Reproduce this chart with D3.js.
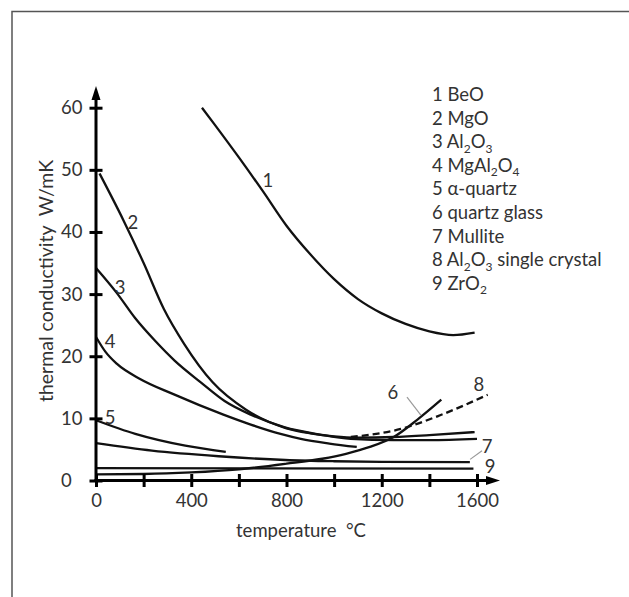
<!DOCTYPE html>
<html>
<head>
<meta charset="utf-8">
<script src="https://cdn.jsdelivr.net/npm/d3@7"></script>
<style>
  body { margin: 0; background: #fff; }
  text { font-family: Lato, "Open Sans", sans-serif; fill: #333; }
</style>
</head>
<body>
<script>
// Chart size
const width = 629;
const height = 597;

// Tick values
const xTicks = [0, 400, 800, 1200, 1600];
const xMinorTicks = [200, 600, 1000, 1400];
const yTicks = [0, 10, 20, 30, 40, 50, 60];

// Series: temperature (°C) and thermal conductivity (W/mK)
const tBeO = [445, 500, 600, 700, 800, 900, 1000, 1100, 1200, 1300, 1400, 1500, 1590];
const kBeO = [60.0, 57.2, 52.0, 46.6, 41.0, 36.4, 32.4, 29.2, 26.9, 25.2, 24.0, 23.4, 23.8];

const tMgO = [15, 115, 200, 285, 370, 490, 630, 800, 900, 1000, 1100, 1250, 1400, 1590];
const kMgO = [49.4, 41.9, 35.0, 27.6, 22.0, 15.8, 11.4, 8.4, 7.6, 7.1, 6.9, 7.0, 7.3, 7.8];

const tAl2O3 = [0, 87, 165, 250, 330, 440, 540, 650, 790, 940, 1070, 1250, 1400, 1600];
const kAl2O3 = [34.2, 30.2, 26.1, 22.4, 19.3, 15.8, 12.8, 10.6, 8.6, 7.4, 6.7, 6.5, 6.5, 6.7];

const tSpinel = [0, 40, 87, 185, 325, 535, 650, 775, 860, 980, 1095];
const kSpinel = [23.1, 20.7, 18.8, 16.35, 13.9, 10.6, 9.0, 7.5, 6.7, 5.95, 5.4];

const tQuartz = [0, 165, 375, 545];
const kQuartz = [9.7, 7.5, 5.6, 4.6];

const tGlass = [0, 200, 400, 600, 800, 950, 1050, 1150, 1250, 1350, 1450];
const kGlass = [1.0, 1.05, 1.3, 1.8, 2.7, 3.5, 4.3, 5.4, 7.0, 9.8, 13.0];

const tMullite = [0, 235, 515, 795, 1000, 1200, 1570];
const kMullite = [6.0, 4.8, 3.9, 3.3, 3.1, 3.0, 2.95];

const tCrystal = [1070, 1280, 1445, 1645];
const kCrystal = [7.0, 8.3, 10.5, 13.8];

const tZrO2 = [0, 1585];
const kZrO2 = [2.0, 1.9];

const legendItems = ["1 BeO", "2 MgO", "3 Al2O3", "4 MgAl2O4", "5 α-quartz",
  "6 quartz glass", "7 Mullite", "8 Al2O3 single crystal", "9 ZrO2"];

const series = [
  {t: tBeO, k: kBeO},
  {t: tMgO, k: kMgO},
  {t: tAl2O3, k: kAl2O3},
  {t: tSpinel, k: kSpinel},
  {t: tQuartz, k: kQuartz},
  {t: tGlass, k: kGlass},
  {t: tMullite, k: kMullite},
  {t: tCrystal, k: kCrystal, dashed: true},
  {t: tZrO2, k: kZrO2}
];

// Create SVG
const svg = d3.select("body")
  .append("svg")
  .attr("width", width)
  .attr("height", height);

// Frame (top and left edges only)
svg.append("path")
  .attr("d", "M12,597 V11.5 H629")
  .attr("fill", "none")
  .attr("stroke", "#555")
  .attr("stroke-width", 1.5);

// Scales
const x = d3.scaleLinear().domain([0, 1600]).range([96, 477]);
const y = d3.scaleLinear().domain([0, 60]).range([480.5, 107.7]);

// Curves
const line = d3.line()
  .x(d => x(d[0]))
  .y(d => y(d[1]))
  .curve(d3.curveMonotoneX);

svg.append("g")
  .selectAll("path")
  .data(series)
  .join("path")
  .attr("d", s => line(s.t.map((t, i) => [t, s.k[i]])))
  .attr("fill", "none")
  .attr("stroke", "#111")
  .attr("stroke-width", 2.3)
  .attr("stroke-dasharray", s => s.dashed ? "7,4" : null);

// Y axis with ticks crossing the line
const yAxis = svg.append("g")
  .attr("transform", `translate(${x(0)},0)`)
  .call(d3.axisLeft(y).tickValues(yTicks).tickSize(6.5));
yAxis.select(".domain").remove();
yAxis.selectAll(".tick line")
  .attr("x1", 6.5)
  .attr("stroke", "#000")
  .attr("stroke-width", 3);
yAxis.selectAll(".tick text")
  .attr("x", -35)
  .attr("text-anchor", "start")
  .style("font-size", "18.5px")
  .style("font-family", "Lato, sans-serif")
  .attr("fill", "#404040");

// X axis
const xAxis = svg.append("g")
  .attr("transform", `translate(0,${y(0)})`)
  .call(d3.axisBottom(x)
    .tickValues(xTicks.concat(xMinorTicks))
    .tickSize(6.5)
    .tickFormat(d => xTicks.includes(d) ? d : ""));
xAxis.select(".domain").remove();
xAxis.selectAll(".tick line")
  .attr("y1", -6.5)
  .attr("stroke", "#000")
  .attr("stroke-width", 3);
xAxis.selectAll(".tick text")
  .attr("y", 26)
  .attr("dy", null)
  .style("font-size", "18.5px")
  .style("font-family", "Lato, sans-serif")
  .attr("fill", "#404040");

// Axis lines with arrow heads
svg.append("line")
  .attr("x1", x(0)).attr("y1", y(0) + 1.5)
  .attr("x2", x(0)).attr("y2", 96)
  .attr("stroke", "#000").attr("stroke-width", 3);
svg.append("path")
  .attr("d", `M${x(0)},86 L${x(0) - 4.5},100 L${x(0) + 4.5},100 Z`)
  .attr("fill", "#000");
svg.append("line")
  .attr("x1", x(0) - 1.5).attr("y1", y(0))
  .attr("x2", 490).attr("y2", y(0))
  .attr("stroke", "#000").attr("stroke-width", 3);
svg.append("path")
  .attr("d", `M500,${y(0)} L486,${y(0) - 4.5} L486,${y(0) + 4.5} Z`)
  .attr("fill", "#000");

// Axis titles
svg.append("text")
  .attr("x", 301)
  .attr("y", 537)
  .attr("text-anchor", "middle")
  .style("font-size", "18.5px")
  .style("white-space", "pre")
  .text("temperature  °C");

svg.append("text")
  .attr("transform", "translate(53,281) rotate(-90)")
  .attr("text-anchor", "middle")
  .style("font-size", "19.5px")
  .style("white-space", "pre")
  .text("thermal conductivity  W/mK");

// Curve number labels (placed in data coordinates)
const curveLabels = [
  ["1", 722, 48.4], ["2", 155, 41.6], ["3", 101, 31.1], ["4", 59, 22.4],
  ["5", 59, 10.2], ["6", 1247, 14.2], ["7", 1642, 5.6], ["8", 1608, 15.6],
  ["9", 1655, 2.4]
];
svg.append("g")
  .selectAll("text")
  .data(curveLabels)
  .join("text")
  .attr("x", d => x(d[1]))
  .attr("y", d => y(d[2]))
  .attr("text-anchor", "middle")
  .attr("dominant-baseline", "central")
  .style("font-size", "18.5px")
  .attr("fill", "#404040")
  .text(d => d[0]);

// Leader lines for labels 6 and 7
const leaders = [
  [[1306, 13.4], [1365, 10.5]],
  [[1621, 4.8], [1571, 3.4]]
];
svg.append("g")
  .selectAll("line")
  .data(leaders)
  .join("line")
  .attr("x1", d => x(d[0][0])).attr("y1", d => y(d[0][1]))
  .attr("x2", d => x(d[1][0])).attr("y2", d => y(d[1][1]))
  .attr("stroke", "#999")
  .attr("stroke-width", 1.2);

// Legend, a digit right after a letter is a subscript
const legend = svg.append("g");
legendItems.forEach((item, i) => {
  const txt = legend.append("text")
    .attr("x", 432)
    .attr("y", 101 + i * 23.6)
    .style("font-size", "18.5px")
    .attr("fill", "#262626");
  let shift = 0;
  item.split(/(?<=[A-Za-z])(\d)/).forEach((part, j) => {
    if (!part) return;
    const sub = j % 2 === 1;
    const target = sub ? 4.5 : 0;
    txt.append("tspan")
      .attr("dy", target - shift)
      .style("font-size", sub ? "12px" : null)
      .text(part);
    shift = target;
  });
});
</script>
</body>
</html>
